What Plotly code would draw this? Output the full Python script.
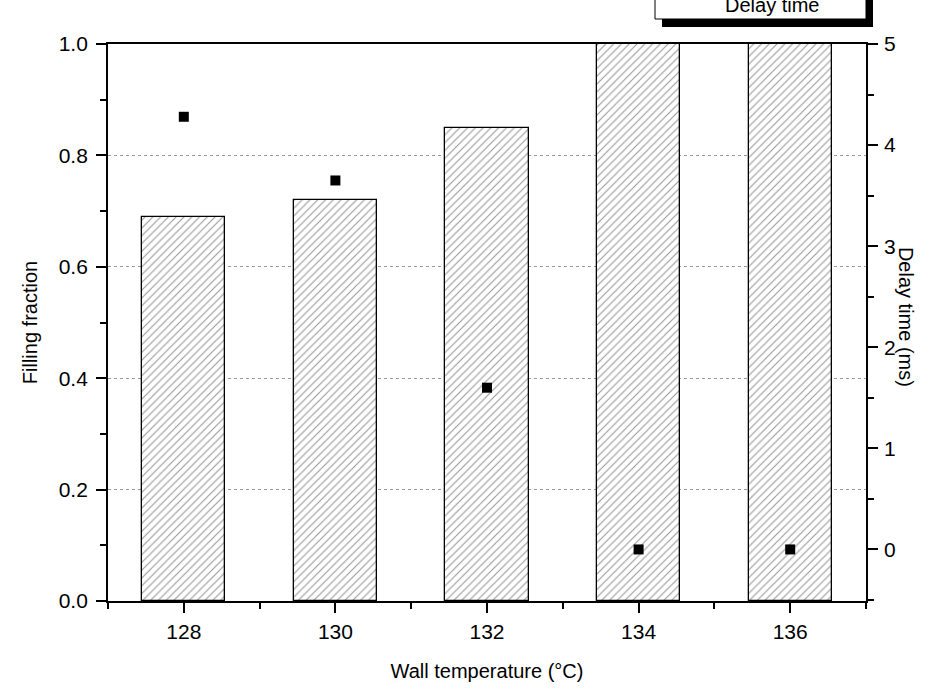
import plotly.graph_objects as go

# Data
wall_temp = [128, 130, 132, 134, 136]
filling_fraction = [0.69, 0.72, 0.85, 1.0, 1.0]
delay_time = [4.28, 3.65, 1.60, 0.0, 0.0]

FONT = "Liberation Sans, Arial, sans-serif"

# Plot area in pixels (for placing the legend box above the frame)
W, H = 940, 691
L, R, T, B = 108, 74, 44, 90
pw, ph = W - L - R, H - T - B


def px_x(x):
    return (x - L) / pw


def px_y(y):
    return (H - B - y) / ph


fig = go.Figure()

fig.add_trace(go.Bar(
    x=wall_temp, y=filling_fraction, name="Filling fraction",
    width=1.1,
    marker=dict(
        color="white",
        line=dict(color="black", width=1.3),
        pattern=dict(shape="/", fgcolor="#333333", bgcolor="white", size=5.5, solidity=0.2),
    ),
    showlegend=False,
))

fig.add_trace(go.Scatter(
    x=wall_temp, y=delay_time, name="Delay time", yaxis="y2",
    mode="markers",
    marker=dict(symbol="square", size=10, color="black"),
    showlegend=False,
))

tickfont = dict(family=FONT, size=21, color="black")
titlefont = dict(family=FONT, size=20, color="black")
LW = 1.8

fig.update_layout(
    width=W, height=H,
    margin=dict(l=L, r=R, t=T, b=B),
    paper_bgcolor="white", plot_bgcolor="white",
    font=dict(family=FONT, color="black"),
    xaxis=dict(
        range=[127, 137], tickvals=[128, 130, 132, 134, 136],
        ticks="outside", ticklen=10, tickwidth=LW, tickcolor="black",
        minor=dict(dtick=1, tick0=127, ticks="outside", ticklen=6, tickwidth=LW, tickcolor="black"),
        showline=True, linecolor="black", linewidth=LW, mirror=True,
        showgrid=False, zeroline=False,
        tickfont=tickfont, ticklabelstandoff=1,
        title=dict(text="Wall temperature (°C)", font=titlefont, standoff=22),
    ),
    yaxis=dict(
        range=[0, 1.0], dtick=0.2, tickformat=".1f",
        ticks="outside", ticklen=10, tickwidth=LW, tickcolor="black",
        minor=dict(dtick=0.1, ticks="outside", ticklen=6, tickwidth=LW, tickcolor="black"),
        showline=True, linecolor="black", linewidth=LW,
        showgrid=True, gridcolor="#9a9a9a", griddash="dot", gridwidth=1,
        zeroline=False,
        tickfont=tickfont, ticklabelstandoff=4,
        title=dict(text="Filling fraction", font=titlefont, standoff=16),
    ),
    yaxis2=dict(
        overlaying="y", side="right",
        range=[-0.51, 5.0], tickvals=[0, 1, 2, 3, 4, 5],
        ticks="outside", ticklen=10, tickwidth=LW, tickcolor="black",
        minor=dict(tickvals=[-0.5, 0.5, 1.5, 2.5, 3.5, 4.5], ticks="outside", ticklen=6,
                   tickwidth=LW, tickcolor="black"),
        showline=True, linecolor="black", linewidth=LW,
        showgrid=False, zeroline=False,
        tickfont=tickfont, ticklabelstandoff=2,
    ),
    bargap=0,
)

# Right axis title, reading top to bottom
fig.add_annotation(
    x=px_x(906), y=0.51, xref="paper", yref="paper", xanchor="center", yanchor="middle",
    text="Delay time (ms)", textangle=90, showarrow=False,
    font=titlefont,
)

# Legend box with drop shadow, sitting above the frame
fig.add_shape(type="rect", xref="paper", yref="paper",
              x0=px_x(662), x1=px_x(873), y0=px_y(27), y1=px_y(-20),
              fillcolor="black", line=dict(width=0), layer="above")
fig.add_shape(type="rect", xref="paper", yref="paper",
              x0=px_x(655), x1=px_x(866), y0=px_y(19), y1=px_y(-20),
              fillcolor="white", line=dict(color="black", width=1), layer="above")
fig.add_annotation(
    x=px_x(772), y=px_y(5), xref="paper", yref="paper", xanchor="center",
    text="Delay time", showarrow=False, yanchor="middle",
    font=dict(family=FONT, size=20, color="black"),
)

fig.write_html("out.html")
